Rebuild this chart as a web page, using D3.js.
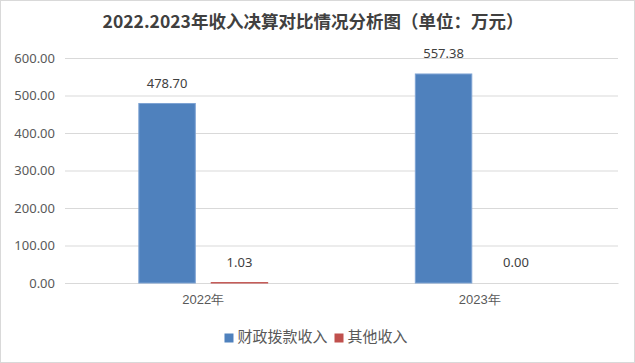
<!DOCTYPE html>
<html>
<head>
<meta charset="utf-8">
<script src="https://cdn.jsdelivr.net/npm/d3@7"></script>
<style>
  body { margin: 0; background: #fff; }
  svg { display: block; font-family: "Noto Sans CJK SC", "Noto Sans", sans-serif; }
</style>
</head>
<body>
<div id="chart"></div>
<script>
var years = ["2022年", "2023年"];
var seriesNames = ["财政拨款收入", "其他收入"];
var fiscal = [478.70, 557.38];
var other = [1.03, 0.00];
var yTicks = [0, 100, 200, 300, 400, 500, 600];
var colors = ["#4F81BD", "#C0504D"];

var width = 635, height = 363;
var margin = { top: 58, right: 17, bottom: 80, left: 65 };

var svg = d3.select("#chart").append("svg")
  .attr("width", width)
  .attr("height", height);

// outer border like the office chart area
svg.append("rect")
  .attr("x", 0.5).attr("y", 0.5)
  .attr("width", width - 1).attr("height", height - 1)
  .attr("fill", "#fff")
  .attr("stroke", "#d9d9d9");

svg.append("text")
  .attr("x", 313)
  .attr("y", 23)
  .attr("text-anchor", "middle")
  .attr("dominant-baseline", "middle")
  .attr("font-size", 17.5)
  .attr("font-weight", "bold")
  .attr("fill", "#404040")
  .text("2022.2023年收入决算对比情况分析图（单位：万元）");

var x0 = d3.scaleBand()
  .domain(years)
  .range([margin.left, width - margin.right]);

var x1 = d3.scaleBand()
  .domain(seriesNames)
  .range([0, x0.bandwidth()])
  .paddingInner(0.22)
  .paddingOuter(1.02);

var y = d3.scaleLinear()
  .domain([0, 600])
  .range([height - margin.bottom, margin.top]);

// gridlines + y labels
var yAxis = svg.append("g")
  .attr("transform", "translate(" + margin.left + ",0)")
  .call(d3.axisLeft(y)
    .tickValues(yTicks)
    .tickSize(-(width - margin.left - margin.right))
    .tickPadding(10)
    .tickFormat(d3.format(".2f")));
yAxis.select(".domain").remove();
yAxis.selectAll(".tick line").attr("stroke", "#d9d9d9");
yAxis.selectAll(".tick text")
  .attr("font-size", 13)
  .attr("fill", "#595959")
  .attr("font-family", "\"Noto Sans\", sans-serif");

// x axis line + labels
var xAxis = svg.append("g")
  .attr("transform", "translate(0," + y(0) + ")")
  .call(d3.axisBottom(x0).tickSize(0).tickPadding(12));
xAxis.select(".domain").attr("stroke", "#d9d9d9");
xAxis.selectAll(".tick text")
  .attr("font-size", 13)
  .attr("fill", "#595959");

var rows = years.map(function (yr, i) {
  return { year: yr, values: [fiscal[i], other[i]] };
});

var groups = svg.selectAll(".grp")
  .data(rows)
  .join("g")
  .attr("transform", function (d) { return "translate(" + x0(d.year) + ",0)"; });

groups.selectAll("rect")
  .data(function (d) {
    return d.values.map(function (v, j) { return { name: seriesNames[j], value: v, idx: j }; });
  })
  .join("rect")
  .attr("x", function (d) { return x1(d.name); })
  .attr("y", function (d) { return y(d.value); })
  .attr("width", x1.bandwidth())
  .attr("height", function (d) { return y(0) - y(d.value); })
  .attr("fill", function (d) { return colors[d.idx]; })
  .attr("stroke", function (d) { return d.value > 0 ? (d.idx === 0 ? "#7EA3D3" : colors[d.idx]) : "none"; })
  .attr("stroke-width", 1);

groups.selectAll(".lbl")
  .data(function (d) {
    return d.values.map(function (v, j) { return { name: seriesNames[j], value: v }; });
  })
  .join("text")
  .attr("x", function (d) { return x1(d.name) + x1.bandwidth() / 2; })
  .attr("y", function (d) { return y(d.value) - 19; })
  .attr("text-anchor", "middle")
  .attr("dominant-baseline", "middle")
  .attr("font-size", 13)
  .attr("fill", "#404040")
  .attr("font-family", "\"Noto Sans\", sans-serif")
  .text(function (d) { return d3.format(".2f")(d.value); });

// legend
var legend = svg.append("g");
var items = legend.selectAll("g")
  .data(seriesNames)
  .join("g");
items.append("rect")
  .attr("width", 9).attr("height", 9)
  .attr("y", -4.5)
  .attr("fill", function (d, i) { return colors[i]; });
items.append("text")
  .attr("x", 13)
  .attr("dominant-baseline", "middle")
  .attr("font-size", 15)
  .attr("fill", "#595959")
  .text(function (d) { return d; });

var offset = 0;
items.each(function () {
  var w = this.getBBox().width;
  d3.select(this).attr("transform", "translate(" + offset + ",0)");
  offset += w + 7;
});
offset -= 7;
legend.attr("transform", "translate(" + (316 - offset / 2) + ",338)");
</script>
</body>
</html>
